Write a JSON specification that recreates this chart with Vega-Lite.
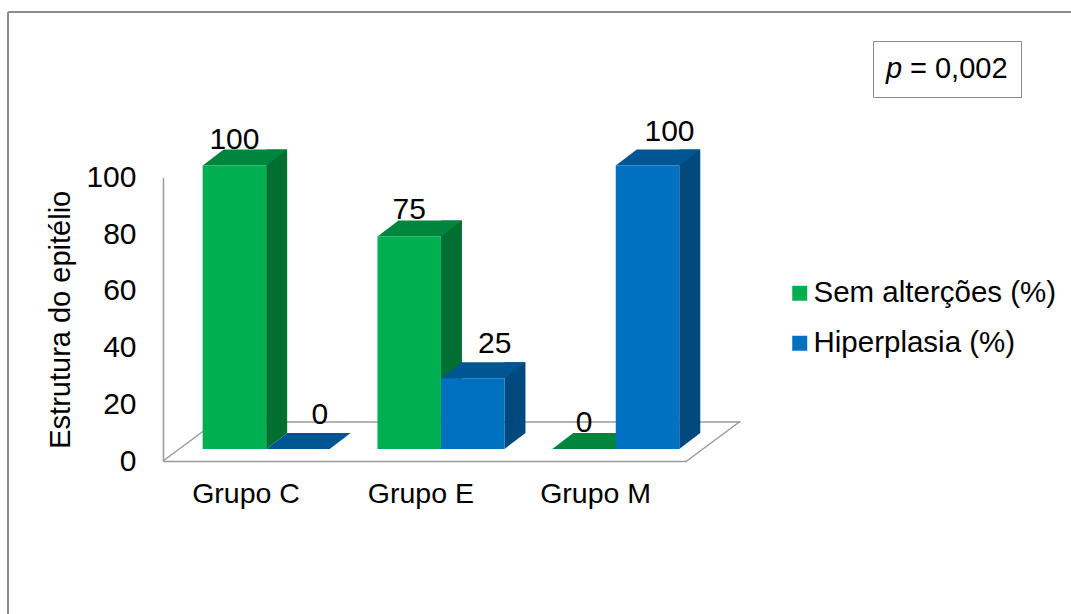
{
  "$schema": "https://vega.github.io/schema/vega-lite/v6.json",
  "width": 1063,
  "height": 602,
  "autosize": {"type": "none"},
  "padding": {"left": 8, "top": 12, "right": 0, "bottom": 0},
  "background": "white",
  "config": {
    "font": "Liberation Sans",
    "view": {"stroke": "#8c8c8c", "strokeWidth": 2, "strokeDash": [1063, 1665, 602, 0]}
  },
  "data": {
    "values": [
      {"grupo": "Grupo C", "serie": "Sem alterções (%)", "valor": 100},
      {"grupo": "Grupo C", "serie": "Hiperplasia (%)", "valor": 0},
      {"grupo": "Grupo E", "serie": "Sem alterções (%)", "valor": 75},
      {"grupo": "Grupo E", "serie": "Hiperplasia (%)", "valor": 25},
      {"grupo": "Grupo M", "serie": "Sem alterções (%)", "valor": 0},
      {"grupo": "Grupo M", "serie": "Hiperplasia (%)", "valor": 100}
    ]
  },
  "resolve": {"axis": {"x": "independent", "y": "independent"}, "scale": {"xOffset": "independent"}},
  "layer": [
    {
      "description": "left edge of the 3D floor, plus the value axis",
      "data": {"values": [{}]},
      "mark": {"type": "point", "shape": "M0,0L53.3,-39.5", "size": 4, "filled": false, "stroke": "#9a9a9a", "strokeWidth": 1.5, "opacity": 1},
      "encoding": {
        "x": {"datum": "Grupo C", "bandPosition": -0.3123, "type": "nominal", "axis": null,
              "scale": {"domain": ["Grupo C", "Grupo E", "Grupo M"], "range": [171.1, 694.8], "paddingInner": 0.2735, "paddingOuter": 0.1348}},
        "y": {"datum": 0, "type": "quantitative",
              "scale": {"domain": [0, 100], "range": [449, 165.5], "nice": false},
              "axis": {"orient": "left", "offset": -155, "values": [0, 20, 40, 60, 80, 100], "title": "Estrutura do epitélio", "titleFontSize": 29, "titleFontWeight": "normal", "titleColor": "black", "titlePadding": 10, "labelFontSize": 30, "labelColor": "black", "labelPadding": 27, "ticks": false, "tickSize": 0, "grid": false, "domainColor": "#9a9a9a", "domainWidth": 1.5}}
      }
    },
    {
      "description": "right edge of the 3D floor",
      "data": {"values": [{}]},
      "mark": {"type": "point", "shape": "M0,0L53.3,-39.5", "size": 4, "filled": false, "stroke": "#9a9a9a", "strokeWidth": 1.5, "opacity": 1},
      "encoding": {
        "x": {"datum": "Grupo M", "bandPosition": 1.0588, "type": "nominal", "axis": null},
        "y": {"datum": 0, "type": "quantitative", "axis": null}
      }
    },
    {
      "description": "side faces of the bars; its x axis draws the back edge of the floor",
      "mark": {"type": "bar", "yOffset": -28, "y2Offset": -28, "opacity": 1},
      "encoding": {
        "x": {"field": "grupo", "type": "nominal",
              "axis": {"orient": "bottom", "offset": -192.5, "position": 37.2, "labels": false, "ticks": false, "grid": false, "title": null, "domainColor": "#9a9a9a", "domainWidth": 1.5}},
        "xOffset": {"field": "serie", "type": "nominal",
                    "scale": {"type": "band", "domain": ["Sem alterções (%)", "Hiperplasia (%)"], "range": [63.5, 148], "paddingInner": 0.6693, "paddingOuter": 0}},
        "y": {"field": "valor", "type": "quantitative", "axis": null},
        "y2": {"datum": 0},
        "color": {"condition": {"test": "datum.serie === 'Hiperplasia (%)'", "value": "#00497f"}, "value": "#006f31"}
      }
    },
    {
      "description": "lower corner of each side face",
      "transform": [{"filter": "datum.valor > 0"}],
      "mark": {"type": "point", "shape": "M31.75,-28L31.75,-12L52.75,-28Z", "size": 4, "filled": true, "strokeWidth": 0, "opacity": 1},
      "encoding": {
        "x": {"field": "grupo", "type": "nominal", "axis": null},
        "xOffset": {"field": "serie", "type": "nominal",
                    "scale": {"type": "band", "domain": ["Sem alterções (%)", "Hiperplasia (%)"], "range": [0, 127], "paddingInner": 0, "paddingOuter": 0}},
        "y": {"datum": 0, "type": "quantitative", "axis": null},
        "color": {"condition": {"test": "datum.serie === 'Hiperplasia (%)'", "value": "#00497f"}, "value": "#006f31"}
      }
    },
    {
      "description": "top faces of the bars",
      "mark": {"type": "point", "shape": "M-31.75,-12L31.75,-12L52.75,-28L-10.75,-28Z", "size": 4, "filled": true, "strokeWidth": 0, "opacity": 1},
      "encoding": {
        "x": {"field": "grupo", "type": "nominal", "axis": null},
        "xOffset": {"field": "serie", "type": "nominal",
                    "scale": {"type": "band", "domain": ["Sem alterções (%)", "Hiperplasia (%)"], "range": [0, 127], "paddingInner": 0, "paddingOuter": 0}},
        "y": {"field": "valor", "type": "quantitative", "axis": null},
        "color": {"condition": {"test": "datum.serie === 'Hiperplasia (%)'", "value": "#005692"}, "value": "#00853c"}
      }
    },
    {
      "description": "front faces of the bars",
      "mark": {"type": "bar", "yOffset": -12, "y2Offset": -12, "opacity": 1},
      "encoding": {
        "x": {"field": "grupo", "type": "nominal",
              "axis": {"orient": "bottom", "offset": -153, "position": -16.1, "title": null, "labelAngle": 0, "labelFontSize": 28.5, "labelColor": "black", "labelPadding": 18, "labelOffset": -4, "ticks": false, "tickSize": 0, "grid": false, "domainColor": "#9a9a9a", "domainWidth": 1.5}},
        "xOffset": {"field": "serie", "type": "nominal",
                    "scale": {"type": "band", "domain": ["Sem alterções (%)", "Hiperplasia (%)"], "range": [0, 127], "paddingInner": 0, "paddingOuter": 0}},
        "y": {"field": "valor", "type": "quantitative", "axis": null},
        "y2": {"datum": 0},
        "color": {"field": "serie", "type": "nominal",
                  "scale": {"domain": ["Sem alterções (%)", "Hiperplasia (%)"], "range": ["#00b050", "#0070c0"]},
                  "legend": {"orient": "none", "legendX": 777, "legendY": 266.5, "title": null, "symbolType": "square", "symbolSize": 225, "symbolStrokeWidth": 0, "symbolOpacity": 1, "labelFontSize": 29.5, "labelColor": "black", "labelOffset": -1, "labelLimit": 400, "rowPadding": 19, "padding": 0}}
      }
    },
    {
      "description": "value labels, first series",
      "transform": [{"filter": "datum.serie === 'Sem alterções (%)'"}],
      "mark": {"type": "text", "fontSize": 30, "color": "black", "align": "center", "baseline": "alphabetic", "yOffset": -29},
      "encoding": {
        "x": {"field": "grupo", "type": "nominal", "axis": null},
        "xOffset": {"field": "serie", "type": "nominal",
                    "scale": {"type": "band", "domain": ["Sem alterções (%)", "Hiperplasia (%)"], "range": [0, 127], "paddingInner": 0, "paddingOuter": 0}},
        "y": {"field": "valor", "type": "quantitative", "axis": null},
        "text": {"field": "valor", "type": "quantitative"}
      }
    },
    {
      "description": "value labels, second series",
      "transform": [{"filter": "datum.serie === 'Hiperplasia (%)'"}],
      "mark": {"type": "text", "fontSize": 30, "color": "black", "align": "center", "baseline": "alphabetic", "dx": 22, "yOffset": -37},
      "encoding": {
        "x": {"field": "grupo", "type": "nominal", "axis": null},
        "xOffset": {"field": "serie", "type": "nominal",
                    "scale": {"type": "band", "domain": ["Sem alterções (%)", "Hiperplasia (%)"], "range": [0, 127], "paddingInner": 0, "paddingOuter": 0}},
        "y": {"field": "valor", "type": "quantitative", "axis": null},
        "text": {"field": "valor", "type": "quantitative"}
      }
    },
    {
      "description": "p-value note, shown as a framed legend",
      "data": {"values": [{"estatistica": "= 0,002"}]},
      "mark": {"type": "point", "opacity": 0},
      "encoding": {
        "shape": {"field": "estatistica", "type": "nominal",
                  "legend": {"orient": "none", "legendX": 865, "legendY": 29, "title": "p", "titleOrient": "left", "titleFontStyle": "italic", "titleFontWeight": "normal", "titleFontSize": 29, "titleColor": "black", "titlePadding": -22, "labelFontSize": 29, "labelColor": "black", "labelOffset": 0, "symbolSize": 0, "symbolOpacity": 0, "symbolStrokeWidth": 0, "padding": 13, "strokeColor": "#8c8c8c", "fillColor": "white"}}
      }
    }
  ]
}
